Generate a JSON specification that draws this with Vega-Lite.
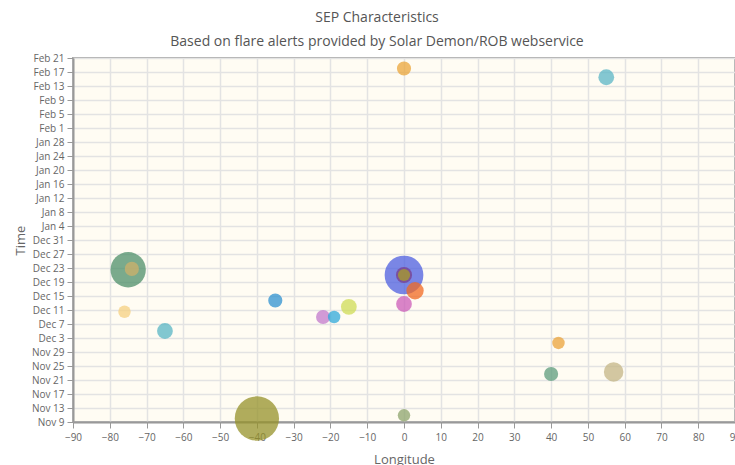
{
  "$schema": "https://vega.github.io/schema/vega-lite/v6.json",
  "autosize": "none",
  "width": 662,
  "height": 364,
  "padding": {"left": 73, "top": 58, "right": 0, "bottom": 43},
  "background": "white",
  "title": {
    "text": "SEP Characteristics",
    "subtitle": "Based on flare alerts provided by Solar Demon/ROB webservice",
    "anchor": "middle",
    "frame": "group",
    "dx": -27,
    "offset": 4,
    "font": "Open Sans",
    "fontSize": 14,
    "fontWeight": "normal",
    "color": "#555555",
    "subtitleFont": "Open Sans",
    "subtitleFontSize": 14,
    "subtitleColor": "#555555",
    "subtitlePadding": 10
  },
  "config": {
    "view": {"fill": "#fffcf3", "stroke": "#aaaaaa", "strokeWidth": 2},
    "axis": {
      "labelFont": "Open Sans",
      "titleFont": "Open Sans",
      "labelColor": "#666666",
      "titleColor": "#666666",
      "labelFontSize": 10,
      "titleFontSize": 13,
      "titleFontWeight": "normal",
      "gridColor": "#e3e3e3",
      "gridWidth": 1.5,
      "domainColor": "#999999",
      "domainWidth": 2,
      "tickColor": "#999999",
      "tickWidth": 1
    }
  },
  "data": {
    "values": [
      {"event": "E01", "time": "2024-02-18T00:00:00Z", "longitude": 0, "intensity": 200},
      {"event": "E02", "time": "2024-02-15T12:00:00Z", "longitude": 55, "intensity": 250},
      {"event": "E03", "time": "2023-12-22T12:00:00Z", "longitude": -75, "intensity": 1250},
      {"event": "E04", "time": "2023-12-22T18:00:00Z", "longitude": -74, "intensity": 200},
      {"event": "E05", "time": "2023-12-10T12:00:00Z", "longitude": -76, "intensity": 155},
      {"event": "E06", "time": "2023-12-05T00:00:00Z", "longitude": -65, "intensity": 250},
      {"event": "E07", "time": "2023-12-13T17:00:00Z", "longitude": -35, "intensity": 200},
      {"event": "E08", "time": "2023-12-09T00:00:00Z", "longitude": -22, "intensity": 200},
      {"event": "E09", "time": "2023-12-09T00:00:00Z", "longitude": -19, "intensity": 155},
      {"event": "E10", "time": "2023-12-11T22:00:00Z", "longitude": -15, "intensity": 250},
      {"event": "E11", "time": "2023-12-21T00:00:00Z", "longitude": 0, "intensity": 1500},
      {"event": "E12", "time": "2023-12-21T00:00:00Z", "longitude": 0, "intensity": 260},
      {"event": "E13", "time": "2023-12-21T00:00:00Z", "longitude": 0, "intensity": 150},
      {"event": "E14", "time": "2023-12-16T12:00:00Z", "longitude": 3, "intensity": 300},
      {"event": "E15", "time": "2023-12-12T17:00:00Z", "longitude": 0, "intensity": 250},
      {"event": "E16", "time": "2023-12-01T14:00:00Z", "longitude": 42, "intensity": 155},
      {"event": "E17", "time": "2023-11-22T17:00:00Z", "longitude": 40, "intensity": 200},
      {"event": "E18", "time": "2023-11-23T07:00:00Z", "longitude": 57, "intensity": 380},
      {"event": "E19", "time": "2023-11-10T00:00:00Z", "longitude": -40, "intensity": 1960},
      {"event": "E20", "time": "2023-11-10T22:00:00Z", "longitude": 0, "intensity": 155}
    ]
  },
  "mark": {"type": "circle", "opacity": 0.75, "stroke": null},
  "encoding": {
    "x": {
      "field": "longitude",
      "type": "quantitative",
      "title": "Longitude",
      "scale": {"domain": [-90, 90], "nice": false, "zero": false},
      "axis": {
        "values": [-90, -80, -70, -60, -50, -40, -30, -20, -10, 0, 10, 20, 30, 40, 50, 60, 70, 80, 90],
        "tickSize": 6,
        "labelPadding": 4,
        "titlePadding": 11,
        "labelFlush": false,
        "labelOverlap": false,
        "titleAnchor": "middle"
      }
    },
    "y": {
      "field": "time",
      "type": "temporal",
      "title": "Time",
      "scale": {
        "type": "utc",
        "nice": false,
        "domain": [
          {"year": 2023, "month": "nov", "date": 9, "utc": true},
          {"year": 2024, "month": "feb", "date": 21, "utc": true}
        ]
      },
      "axis": {
        "labelExpr": "utcFormat(datum.value, '%b %-d')",
        "tickSize": 6,
        "labelPadding": 3,
        "titlePadding": 4,
        "labelFlush": false,
        "labelOverlap": false,
        "values": [
          {"year": 2023, "month": "nov", "date": 9, "utc": true},
          {"year": 2023, "month": "nov", "date": 13, "utc": true},
          {"year": 2023, "month": "nov", "date": 17, "utc": true},
          {"year": 2023, "month": "nov", "date": 21, "utc": true},
          {"year": 2023, "month": "nov", "date": 25, "utc": true},
          {"year": 2023, "month": "nov", "date": 29, "utc": true},
          {"year": 2023, "month": "dec", "date": 3, "utc": true},
          {"year": 2023, "month": "dec", "date": 7, "utc": true},
          {"year": 2023, "month": "dec", "date": 11, "utc": true},
          {"year": 2023, "month": "dec", "date": 15, "utc": true},
          {"year": 2023, "month": "dec", "date": 19, "utc": true},
          {"year": 2023, "month": "dec", "date": 23, "utc": true},
          {"year": 2023, "month": "dec", "date": 27, "utc": true},
          {"year": 2023, "month": "dec", "date": 31, "utc": true},
          {"year": 2024, "month": "jan", "date": 4, "utc": true},
          {"year": 2024, "month": "jan", "date": 8, "utc": true},
          {"year": 2024, "month": "jan", "date": 12, "utc": true},
          {"year": 2024, "month": "jan", "date": 16, "utc": true},
          {"year": 2024, "month": "jan", "date": 20, "utc": true},
          {"year": 2024, "month": "jan", "date": 24, "utc": true},
          {"year": 2024, "month": "jan", "date": 28, "utc": true},
          {"year": 2024, "month": "feb", "date": 1, "utc": true},
          {"year": 2024, "month": "feb", "date": 5, "utc": true},
          {"year": 2024, "month": "feb", "date": 9, "utc": true},
          {"year": 2024, "month": "feb", "date": 13, "utc": true},
          {"year": 2024, "month": "feb", "date": 17, "utc": true},
          {"year": 2024, "month": "feb", "date": 21, "utc": true}
        ]
      }
    },
    "size": {
      "field": "intensity",
      "type": "quantitative",
      "scale": {"domain": [0, 2000], "range": [0, 2000], "zero": true},
      "legend": null
    },
    "color": {
      "field": "event",
      "type": "nominal",
      "legend": null,
      "scale": {
        "domain": ["E01", "E02", "E03", "E04", "E05", "E06", "E07", "E08", "E09", "E10", "E11", "E12", "E13", "E14", "E15", "E16", "E17", "E18", "E19", "E20"],
        "range": ["#eba53a", "#5bb6c6", "#4e8f6a", "#cfb06a", "#f6d080", "#58b6c4", "#2f92d0", "#c179cc", "#2fa8da", "#cfdc55", "#4d5fe0", "#7a3d8a", "#a89d2a", "#f26a22", "#cc5cb8", "#eba33a", "#5e9c7c", "#c4b585", "#95912a", "#8da46c"]
      }
    },
    "order": {"field": "intensity", "type": "quantitative", "sort": "descending"}
  }
}
